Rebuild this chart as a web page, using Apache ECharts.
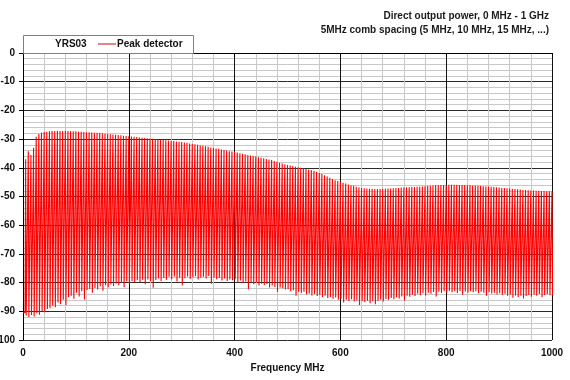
<!DOCTYPE html>
<html>
<head>
<meta charset="utf-8">
<script src="https://cdn.jsdelivr.net/npm/echarts@6/dist/echarts.min.js"></script>
<style>html,body{margin:0;padding:0;background:#fff}#c{width:570px;height:380px}</style>
</head>
<body>
<div id="c"></div>
<script>
// Title lines
const titleLines = ['Direct output power, 0 MHz - 1 GHz', '5MHz comb spacing (5 MHz, 10 MHz, 15 MHz, ...)'];
const boxLabel = 'YRS03';
const seriesName = 'Peak detector';
const xAxisName = 'Frequency MHz';
// Axis ticks
const xTicks = [0, 200, 400, 600, 800, 1000];
const yTicks = [-100, -90, -80, -70, -60, -50, -40, -30, -20, -10, 0];
// comb spacing (MHz)
const combStep = 5;
// Peak level of each comb line at 5, 10, ... 1000 MHz (dBm)
const peaks = [
-37.0,-34.2,-35.5,-33.0,-29.2,-28.2,-27.8,-27.5,-27.4,-27.3,-27.2,-27.2,-27.1,-27.2,-27.2,-27.1,-27.2,-27.2,-27.3,-27.3,
-27.4,-27.4,-27.5,-27.6,-27.6,-27.7,-27.8,-27.8,-27.9,-28.0,-28.1,-28.2,-28.3,-28.4,-28.5,-28.6,-28.7,-28.8,-28.9,-29.0,
-29.1,-29.2,-29.3,-29.4,-29.5,-29.6,-29.7,-29.8,-29.9,-30.0,-30.1,-30.2,-30.3,-30.4,-30.5,-30.6,-30.7,-30.8,-30.9,-31.0,
-31.2,-31.3,-31.5,-31.7,-31.8,-32.0,-32.2,-32.3,-32.5,-32.7,-32.9,-33.1,-33.3,-33.4,-33.6,-33.8,-34.0,-34.2,-34.3,-34.5,
-34.7,-34.9,-35.1,-35.3,-35.5,-35.7,-35.9,-36.1,-36.3,-36.5,-36.7,-36.9,-37.1,-37.3,-37.6,-37.9,-38.2,-38.5,-38.8,-39.0,
-39.2,-39.4,-39.6,-39.8,-40.0,-40.2,-40.4,-40.6,-40.8,-41.0,-41.4,-41.8,-42.2,-42.6,-43.0,-43.5,-43.9,-44.3,-44.6,-44.9,
-45.2,-45.5,-45.8,-46.1,-46.3,-46.6,-46.8,-47.0,-47.1,-47.2,-47.3,-47.3,-47.4,-47.4,-47.4,-47.3,-47.3,-47.2,-47.2,-47.1,
-47.0,-47.0,-46.9,-46.9,-46.8,-46.8,-46.7,-46.7,-46.6,-46.6,-46.5,-46.4,-46.3,-46.3,-46.2,-46.1,-46.1,-46.0,-46.0,-46.0,
-45.9,-45.9,-45.9,-45.9,-46.0,-46.0,-46.0,-46.1,-46.1,-46.2,-46.2,-46.3,-46.3,-46.4,-46.5,-46.5,-46.6,-46.7,-46.8,-46.9,
-47.0,-47.0,-47.1,-47.2,-47.3,-47.4,-47.5,-47.6,-47.7,-47.7,-47.8,-47.9,-47.9,-48.0,-48.0,-48.1,-48.1,-48.2,-48.2,-48.3
];
// Noise floor in the gap after each 5 MHz step (0-5, 5-10, ... 995-1000 MHz)
const noise = [
-90.5,-91.5,-92.0,-91.3,-91.8,-90.6,-91.2,-90.0,-90.3,-89.2,-88.9,-88.0,-88.6,-86.9,-87.5,-86.0,-87.8,-85.0,-84.6,-85.6,
-83.5,-84.8,-83.0,-85.9,-82.6,-82.2,-83.5,-81.9,-82.4,-81.3,-82.8,-80.9,-81.6,-80.7,-81.2,-80.3,-80.9,-80.1,-81.6,-79.6,
-80.3,-79.4,-80.0,-79.2,-79.8,-79.0,-80.6,-78.9,-79.5,-81.8,-79.1,-78.6,-79.4,-78.4,-79.0,-78.0,-78.8,-77.9,-79.6,-78.3,
-81.0,-78.5,-77.9,-78.7,-78.1,-77.8,-78.9,-78.3,-78.0,-78.6,-77.7,-80.4,-78.2,-78.8,-78.4,-79.3,-78.6,-79.4,-78.9,-79.2,
-78.8,-79.9,-79.3,-80.1,-79.6,-82.3,-79.9,-80.6,-80.0,-81.0,-80.4,-80.8,-80.5,-81.7,-81.0,-81.5,-83.2,-81.7,-82.0,-82.4,
-82.3,-83.0,-82.7,-84.6,-83.2,-83.6,-83.2,-84.1,-83.8,-84.5,-84.0,-84.7,-84.3,-85.0,-84.6,-85.4,-85.0,-85.6,-85.2,-86.0,
-85.7,-86.9,-86.0,-86.4,-85.8,-86.6,-86.2,-87.8,-86.4,-86.8,-86.3,-87.2,-86.5,-87.5,-86.4,-86.0,-86.6,-85.7,-86.0,-85.4,
-85.8,-85.1,-85.5,-84.8,-86.2,-84.6,-84.9,-84.2,-84.7,-83.9,-84.4,-83.7,-84.5,-83.5,-83.9,-83.3,-84.8,-83.2,-83.6,-83.0,
-83.5,-82.8,-83.4,-83.0,-83.6,-82.9,-84.2,-83.1,-83.5,-82.9,-83.4,-83.0,-83.7,-83.2,-83.5,-84.6,-83.4,-83.8,-83.5,-84.1,
-83.7,-84.3,-83.9,-84.6,-84.2,-85.3,-84.5,-85.0,-84.6,-85.5,-84.7,-84.3,-84.9,-84.2,-84.6,-84.0,-85.1,-84.3,-84.0,-84.4
];

// Build the trace: narrow spike at each comb line, noise floor in between
const halfWidth = 1.1;
const trace = [[0, noise[0]]];
for (let i = 0; i < peaks.length; i++) {
  const f = combStep * (i + 1);
  const after = i + 1 < noise.length ? noise[i + 1] : noise[i];
  trace.push([f - halfWidth, noise[i]]);
  trace.push([f, peaks[i]]);
  trace.push([f + halfWidth, after]);
}

const FONT = 'Liberation Sans, Arial, sans-serif';
const chart = echarts.init(document.getElementById('c'), null, {renderer: 'canvas'});
chart.setOption({
  animation: false,
  backgroundColor: '#ffffff',
  title: [
    {text: titleLines[0], right: 21, top: 11, padding: 0, textStyle: {fontFamily: FONT, fontSize: 10, fontWeight: 'bold', color: '#1a1a1a'}},
    {text: titleLines[1], right: 21, top: 25, padding: 0, textStyle: {fontFamily: FONT, fontSize: 10, fontWeight: 'bold', color: '#1a1a1a'}}
  ],
  graphic: [
    {type: 'rect', left: 23, top: 35, shape: {width: 170, height: 18}, style: {fill: '#fff', stroke: '#808080', lineWidth: 1}, z: 10},
    {type: 'text', left: 55, top: 39, style: {text: boxLabel, font: 'bold 10px ' + FONT, fill: '#111'}, z: 11},
    {type: 'line', shape: {x1: 98, y1: 44, x2: 116, y2: 44}, style: {stroke: '#e05a5a', lineWidth: 1.5}, z: 11},
    {type: 'text', left: 117, top: 39, style: {text: seriesName, font: 'bold 10px ' + FONT, fill: '#111'}, z: 11}
  ],
  grid: {left: 23, right: 18, top: 53, bottom: 40, containLabel: false, outerBoundsMode: 'none'},
  xAxis: {
    type: 'value', min: xTicks[0], max: xTicks[xTicks.length - 1], interval: xTicks[1] - xTicks[0],
    name: xAxisName, nameLocation: 'middle', nameGap: 21,
    nameTextStyle: {fontFamily: FONT, fontSize: 10, fontWeight: 'bold', color: '#111'},
    axisLine: {lineStyle: {color: '#000', width: 1}},
    axisTick: {show: true, inside: false, length: 4, lineStyle: {color: '#000'}},
    axisLabel: {margin: 8, fontFamily: FONT, fontSize: 10, fontWeight: 'bold', color: '#111', formatter: v => String(v)},
    splitLine: {show: true, lineStyle: {color: '#111', width: 1}},
    minorTick: {show: false, splitNumber: 5},
    minorSplitLine: {show: true, lineStyle: {color: '#c8c8c8', width: 1}}
  },
  yAxis: {
    type: 'value', min: yTicks[0], max: yTicks[yTicks.length - 1], interval: yTicks[1] - yTicks[0],
    axisLine: {show: true, lineStyle: {color: '#000', width: 1}},
    axisTick: {show: true, inside: false, length: 4, lineStyle: {color: '#000'}},
    axisLabel: {margin: 8, fontFamily: FONT, fontSize: 10, fontWeight: 'bold', color: '#111', formatter: v => String(v)},
    splitLine: {show: true, lineStyle: {color: '#2a2a2a', width: 1}},
    minorTick: {show: false, splitNumber: 5},
    minorSplitLine: {show: true, lineStyle: {color: '#c8c8c8', width: 1}}
  },
  series: [{
    name: seriesName, type: 'line', data: trace,
    symbol: 'none', showSymbol: false, clip: true,
    lineStyle: {color: '#ff0000', width: 1.1},
    itemStyle: {color: '#ff0000'}
  }]
});
</script>
</body>
</html>
